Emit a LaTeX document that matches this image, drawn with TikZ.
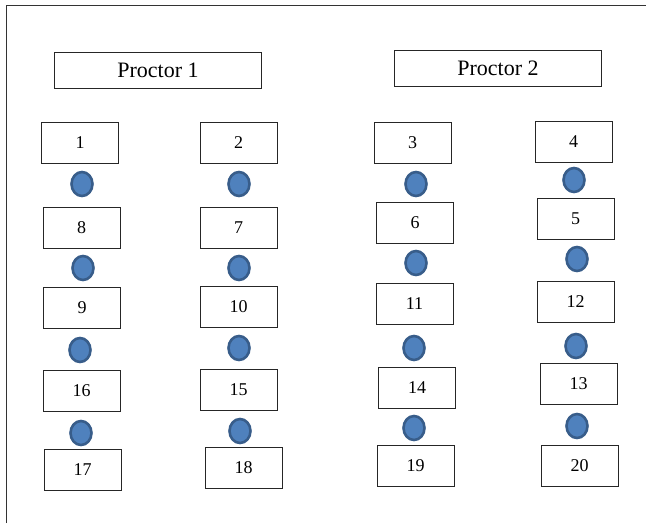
\documentclass[tikz,border=0pt]{standalone}
\usepackage{fontspec}
\setmainfont{Liberation Serif}
\usepackage{xcolor}
\usetikzlibrary{shapes.geometric}
\definecolor{beadfill}{HTML}{4F81BD}
\definecolor{beadline}{HTML}{385D8A}

\begin{document}
\begin{tikzpicture}[x=1pt,y=1pt,
    seat/.style={shape=rectangle, draw=black!85, line width=0.9pt, minimum width=77pt, minimum height=41pt, inner sep=0pt, font=\fontsize{18}{20}\selectfont},
    proctor/.style={shape=rectangle, draw=black!85, line width=0.9pt, minimum width=207pt, minimum height=36pt, inner sep=0pt, font=\fontsize{22}{24}\selectfont},
    bead/.style={shape=ellipse, draw=beadline, fill=beadfill, line width=2.6pt, minimum width=21pt, minimum height=24pt, inner sep=0pt}]
    \useasboundingbox (0,0) rectangle (646,-523);
    \draw[line width=0.8pt, black!80] (6,-523) -- (6,-5) -- (646,-5);

    \node[proctor] (p1) at (158,-70.5) {Proctor 1};
    \node[proctor] (p2) at (498,-68) {Proctor 2};

    \node[seat] (s1) at (80,-142.5) {1};
    \node[seat] (s8) at (81.5,-228) {8};
    \node[seat] (s9) at (82,-307.5) {9};
    \node[seat] (s16) at (81.5,-391) {16};
    \node[seat] (s17) at (82.5,-469.5) {17};

    \node[seat] (s2) at (238.5,-142.5) {2};
    \node[seat] (s7) at (238.5,-228) {7};
    \node[seat] (s10) at (238.5,-307) {10};
    \node[seat] (s15) at (238.5,-389.5) {15};
    \node[seat] (s18) at (243.5,-467.5) {18};

    \node[seat] (s3) at (412.5,-143) {3};
    \node[seat] (s6) at (415,-223) {6};
    \node[seat] (s11) at (414.5,-303.5) {11};
    \node[seat] (s14) at (417,-387.5) {14};
    \node[seat] (s19) at (415.5,-465.5) {19};

    \node[seat] (s4) at (573.5,-141.5) {4};
    \node[seat] (s5) at (575.5,-218.5) {5};
    \node[seat] (s12) at (575.5,-302) {12};
    \node[seat] (s13) at (578.5,-384) {13};
    \node[seat] (s20) at (579.5,-465.5) {20};

    % markers between the seats
    \foreach \n/\x/\y in {a1/82/-184, a2/83/-268, a3/80/-350, a4/81/-433,
                         b1/239/-184, b2/239/-268, b3/239/-348, b4/240/-431,
                         c1/416/-184, c2/416/-263, c3/414/-348, c4/414/-428,
                         d1/574/-180, d2/577/-259, d3/576/-346, d4/577/-426}
      \node[bead] (m\n) at (\x,\y) {};
\end{tikzpicture}
\end{document}
